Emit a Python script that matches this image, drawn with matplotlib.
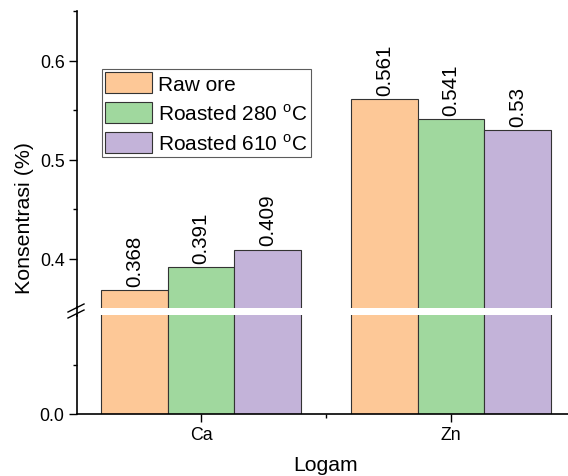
import matplotlib
matplotlib.use('Agg')
import matplotlib.pyplot as plt
import numpy as np
from matplotlib.lines import Line2D

plt.rcParams['font.family'] = ['Liberation Sans', 'DejaVu Sans']

metals = ['Ca', 'Zn']
series = ['Raw ore', 'Roasted 280 $^{\\mathregular{o}}$C', 'Roasted 610 $^{\\mathregular{o}}$C']
raw_ore = [0.368, 0.561]
roasted_280 = [0.391, 0.541]
roasted_610 = [0.409, 0.53]
value_text = [['0.368', '0.561'], ['0.391', '0.541'], ['0.409', '0.53']]
colors = ['#FDC897', '#A0D89E', '#C3B3D9']

W, H = 568, 477
fig = plt.figure(figsize=(W / 100, H / 100), dpi=100)

left = 77 / W
width = 500 / W
ax_lo = fig.add_axes([left, (H - 415) / H, width, 99 / H])
ax_hi = fig.add_axes([left, (H - 309) / H, width, 297 / H])

x = np.arange(len(metals))
bw = 0.8 / 3
data = [raw_ore, roasted_280, roasted_610]
handles = []
for i, vals in enumerate(data):
    pos = x + (i - 1) * bw
    for ax in (ax_lo, ax_hi):
        b = ax.bar(pos, vals, width=bw, color=colors[i], edgecolor='#333333', linewidth=0.8)
    handles.append(b)
    for p, v, t in zip(pos, vals, value_text[i]):
        ax_hi.annotate(t, (p, v), xytext=(0, 3), textcoords='offset points',
                       rotation=90, ha='center', va='bottom', fontsize=14.8)

for ax in (ax_lo, ax_hi):
    ax.set_xlim(-0.496, 1.504)
    for s in ('top', 'right'):
        ax.spines[s].set_visible(False)
    ax.spines['left'].set_linewidth(1.2)
    ax.spines['bottom'].set_linewidth(1.2)
    ax.tick_params(direction='out', length=5.5, width=1.0, labelsize=12.8)
    ax.tick_params(which='minor', direction='out', length=3, width=1.0)

ax_hi.set_ylim(0.35, 0.65)
ax_hi.set_yticks([0.4, 0.5, 0.6])
ax_hi.set_yticks([0.45, 0.55, 0.65], minor=True)
ax_hi.spines['bottom'].set_visible(False)
ax_hi.set_xticks([])
ax_hi.set_xticks([], minor=True)

ax_lo.set_ylim(0, 0.1)
ax_lo.set_yticks([0.0])
ax_lo.set_yticklabels(['0.0'])
ax_lo.set_yticks([0.05], minor=True)
ax_lo.set_xticks(x)
ax_lo.set_xticklabels(metals)
ax_lo.set_xticks([0.5], minor=True)

# break marks on the y axis
xs = np.array([68, 84]) / W
for y0 in (313, 319):
    ys = 1 - np.array([y0, y0 - 8]) / H
    fig.add_artist(Line2D(xs, ys, color='black', lw=1.0))
fig.add_artist(Line2D([left, left], [1 - 317 / H, 1 - 308 / H], color='black', lw=1.2))

leg = ax_hi.legend(handles, series, loc='upper left', bbox_to_anchor=(102 / W, 1 - 70 / H),
                   bbox_transform=fig.transFigure, fontsize=15, frameon=True, fancybox=False,
                   borderaxespad=0, borderpad=0.15, handlelength=2.25, handleheight=1.15,
                   handletextpad=0.3, labelspacing=0.42)
leg.get_frame().set_edgecolor('#333333')
leg.get_frame().set_linewidth(0.8)

fig.text(25 / W, 1 - 218 / H, 'Konsentrasi (%)', rotation=90, ha='center', va='center', fontsize=15.4)
fig.text(326 / W, 1 - 466 / H, 'Logam', ha='center', va='center', fontsize=15.2)

fig.savefig('out.png', dpi=100)
